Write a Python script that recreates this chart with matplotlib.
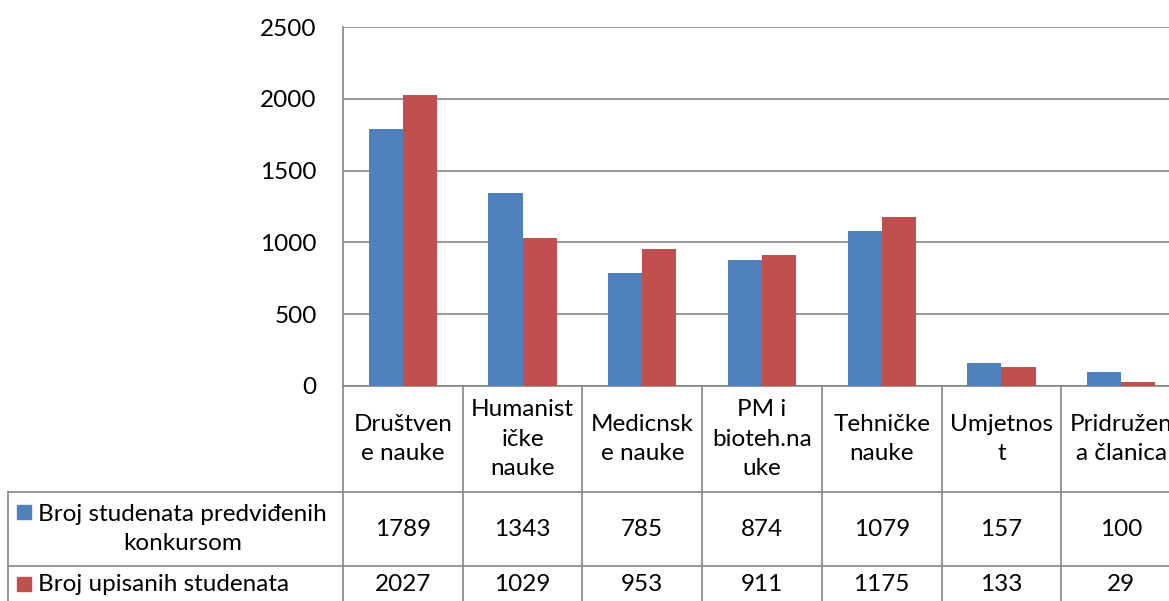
import numpy as np
import matplotlib.pyplot as plt
from matplotlib.lines import Line2D
from matplotlib.patches import Rectangle
from matplotlib.transforms import blended_transform_factory

plt.rcParams['font.family'] = ['Lato', 'DejaVu Sans']

categories = ["Društven\ne nauke", "Humanist\ničke\nnauke", "Medicnsk\ne nauke",
              "PM i\nbioteh.na\nuke", "Tehničke\nnauke", "Umjetnos\nt", "Pridružen\na članica"]
predvideno = [1789, 1343, 785, 874, 1079, 157, 100]
upisano = [2027, 1029, 953, 911, 1175, 133, 29]
series_names = ["Broj studenata predviđenih\nkonkursom", "Broj upisanih studenata"]
yticks = [0, 500, 1000, 1500, 2000, 2500]

blue = "#4F81BD"
red = "#C0504D"
gray = "#868686"
fs = 17.5

W, H = 1169, 601
fig = plt.figure(figsize=(W / 100, H / 100), dpi=100)

def fy(py):
    # pixel row -> figure fraction
    return 1 - py / H

def fx(px):
    return px / W

x_left, x_right, y_top, y_bot = 343, 1181, 27, 386
ax = fig.add_axes([fx(x_left), fy(y_bot), fx(x_right) - fx(x_left), fy(y_top) - fy(y_bot)])

x = np.arange(len(categories))
w = 1 / 3.5
ax.bar(x - w / 2, predvideno, w, color=blue, zorder=3)
ax.bar(x + w / 2, upisano, w, color=red, zorder=3)

ax.set_xlim(-0.5, len(categories) - 0.5)
ax.set_ylim(0, 2500)
ax.set_yticks(yticks)
ax.set_xticks([])
ax.tick_params(axis='y', length=0, pad=19, labelsize=fs)
ax.yaxis.grid(True, color=gray, linewidth=1.2)
ax.set_axisbelow(True)
for s in ["top", "right"]:
    ax.spines[s].set_visible(False)
for s in ["left", "bottom"]:
    ax.spines[s].set_color(gray)
    ax.spines[s].set_linewidth(1.2)

# data table below the plot
tr = blended_transform_factory(ax.transData, fig.transFigure)
row_head, row1, row2, row_end = 386, 492, 566, 603
for i in range(len(categories) + 1):
    fig.add_artist(Line2D([i - 0.5, i - 0.5], [fy(row_head), fy(row_end + 5)], transform=tr,
                          color=gray, linewidth=1.2))
for yy in [row1, row2]:
    fig.add_artist(Line2D([fx(8), fx(1200)], [fy(yy), fy(yy)], transform=fig.transFigure,
                          color=gray, linewidth=1.2))
fig.add_artist(Line2D([fx(8), fx(8)], [fy(row1), fy(row_end + 5)], transform=fig.transFigure,
                      color=gray, linewidth=1.2))

for i, lab in enumerate(categories):
    fig.text(i, fy((row_head + row1) / 2), lab, transform=tr, ha='center', va='center',
             fontsize=fs, linespacing=1.5)
    fig.text(i, fy((row1 + row2) / 2), str(predvideno[i]), transform=tr, ha='center',
             va='center', fontsize=fs)
    fig.text(i, fy((row2 + row_end) / 2), str(upisano[i]), transform=tr, ha='center',
             va='center', fontsize=fs)

# legend keys + series names
for (yc, key_y), name, col in zip([((row1 + row2) / 2, 512), ((row2 + row_end) / 2, 584)],
                                  series_names, [blue, red]):
    fig.add_artist(Rectangle((fx(17), fy(key_y + 7)), fx(14), 14 / H,
                             transform=fig.transFigure, color=col))
    fig.text(fx(38), fy(yc), name, ha='left', va='center', multialignment='center',
             fontsize=fs, linespacing=1.5)

fig.savefig("out.png", dpi=100)
